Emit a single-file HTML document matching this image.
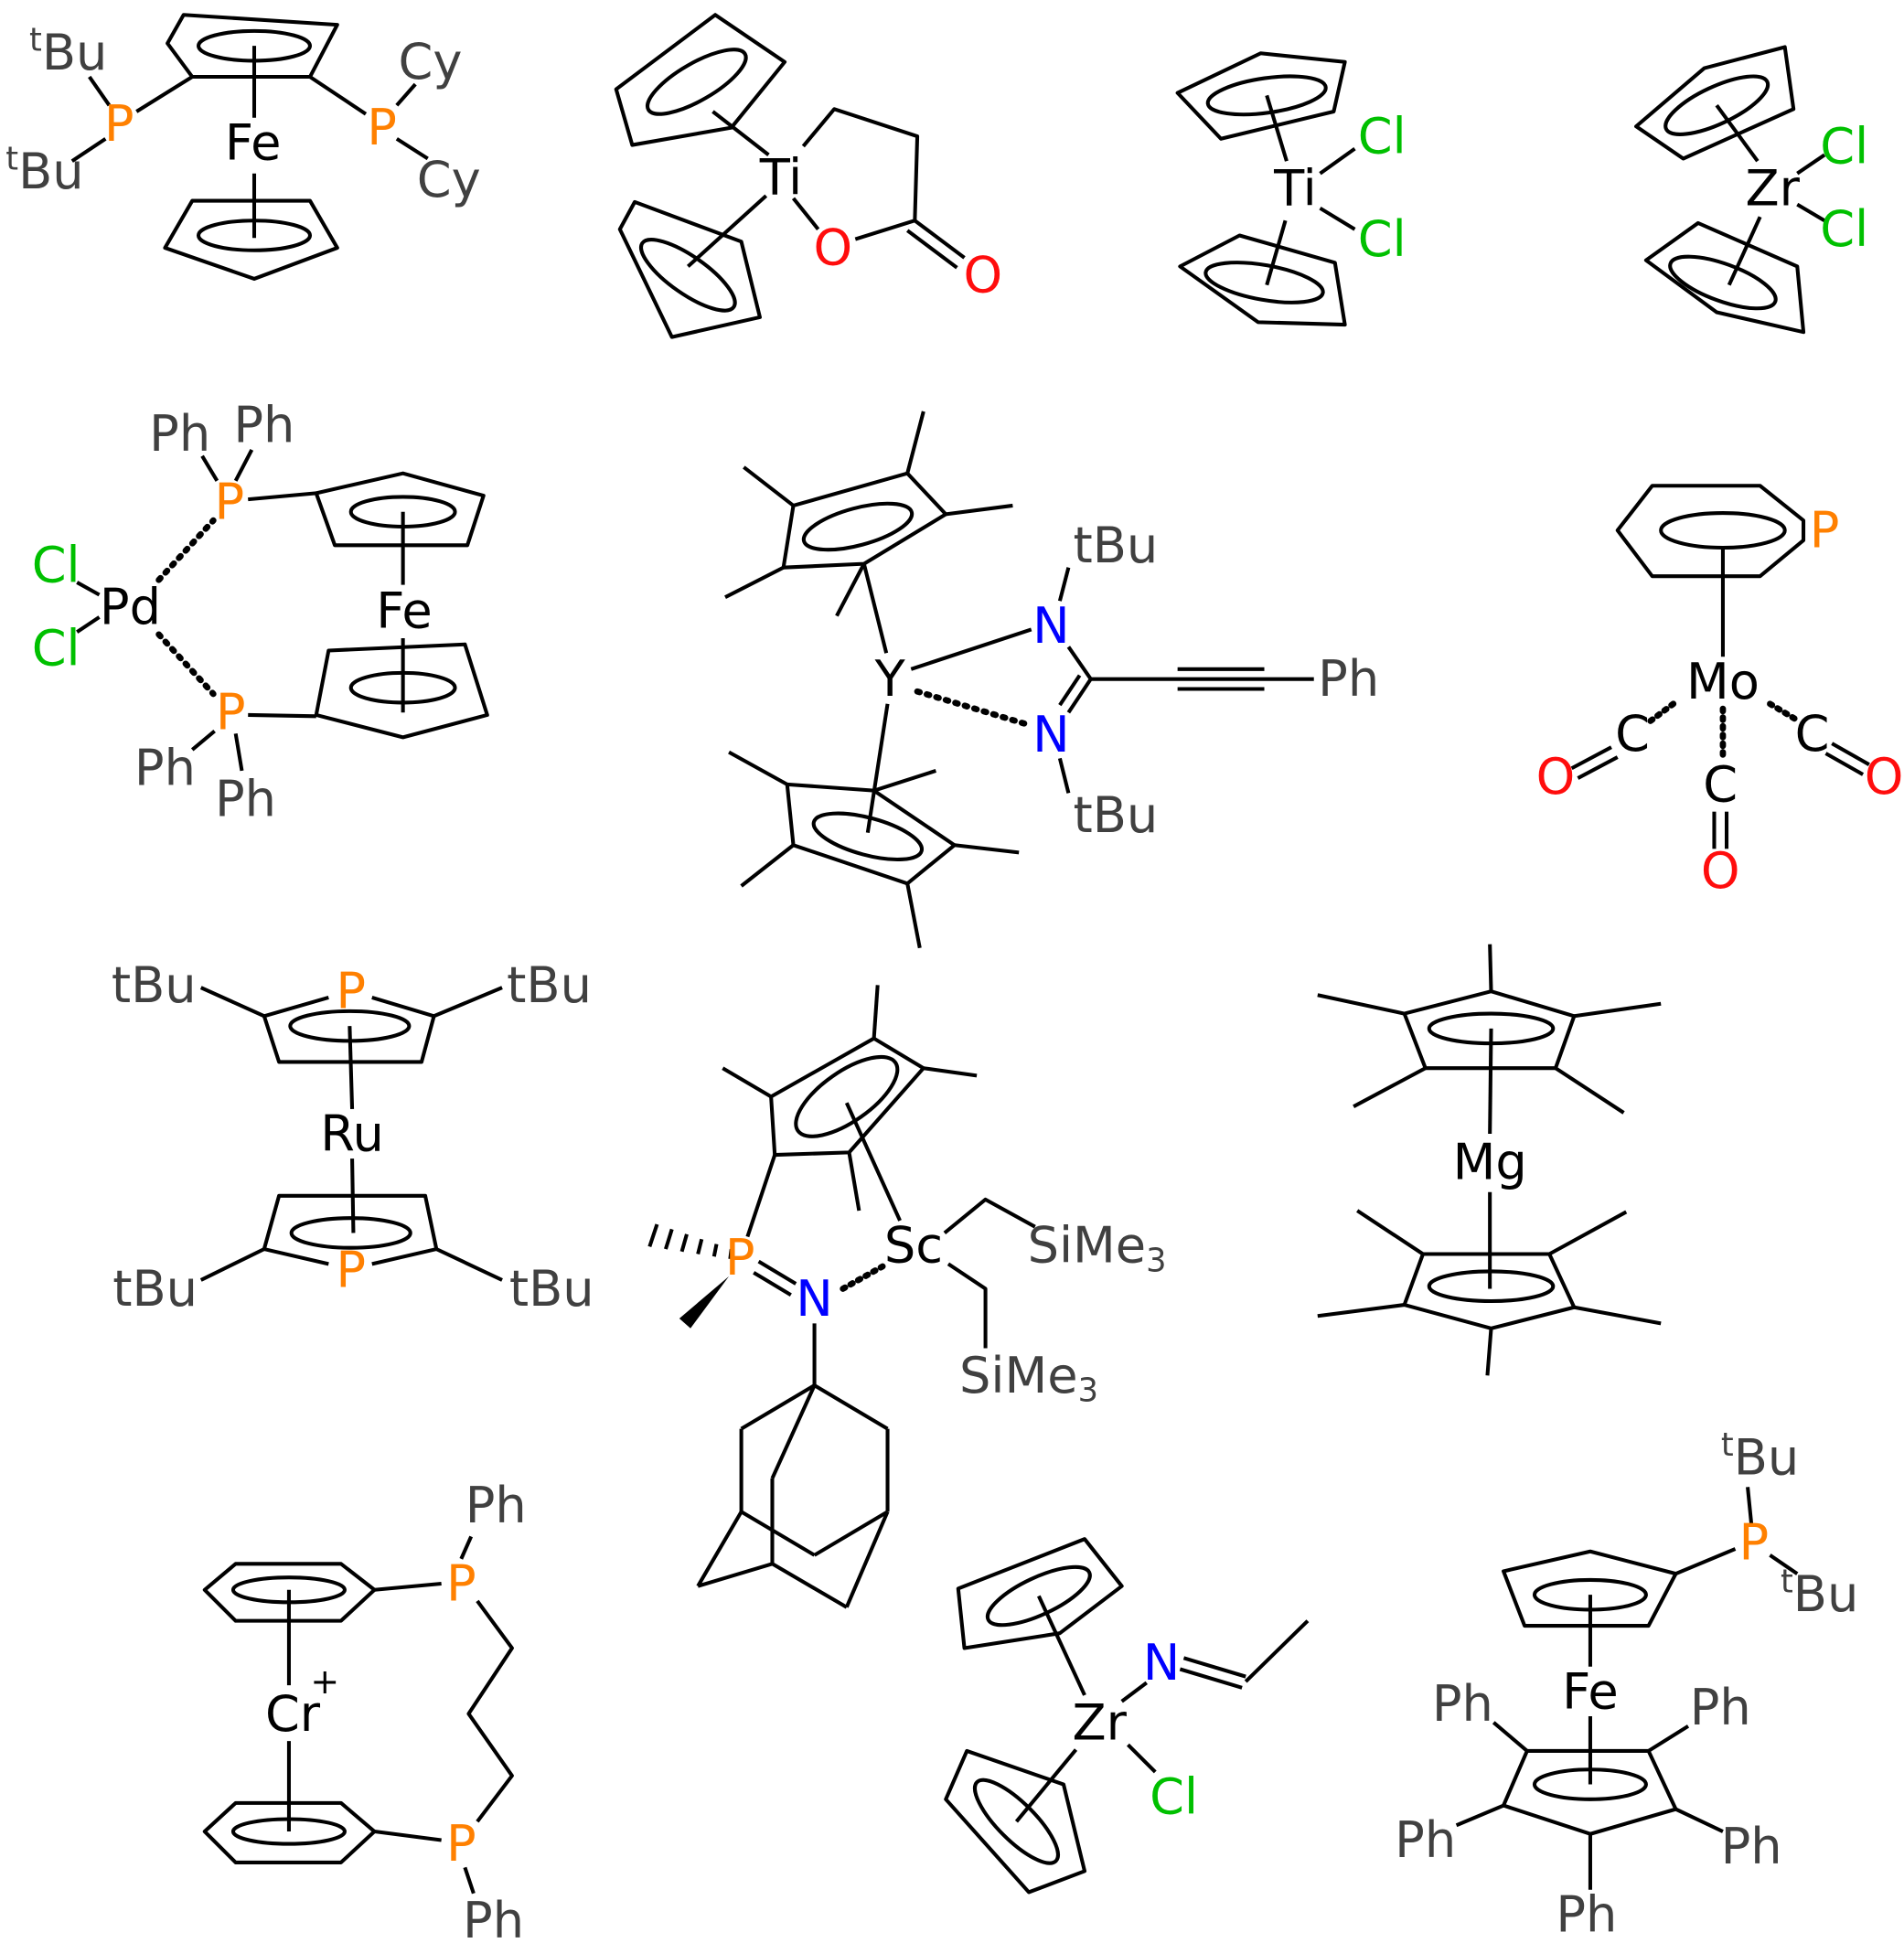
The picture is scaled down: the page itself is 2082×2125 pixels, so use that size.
<!DOCTYPE html>
<html><head><meta charset="utf-8"><style>
html,body{margin:0;padding:0;background:#fff;}
svg{display:block;}
text{font-family:"DejaVu Sans","Liberation Sans",sans-serif;font-size:40px;text-anchor:middle;dominant-baseline:central;}
.g{fill:#404040}.o{fill:#ff8000}.r{fill:#ff0d0d}.b{fill:#0000ff}.c{fill:#00c000}.k{fill:#000}
.sup{font-size:26px}
</style></head><body>
<svg width="2082" height="2125" viewBox="0 0 1536 1568" xmlns="http://www.w3.org/2000/svg">
<g fill="none" stroke="#000" stroke-width="3" stroke-linejoin="round">
<!-- M1 -->
<polygon points="148,12 272,20 250,62 155,62 135,35"/>
<ellipse cx="205" cy="37" rx="45" ry="12"/>
<line x1="205" y1="37" x2="205" y2="95"/><line x1="205" y1="140" x2="205" y2="192"/>
<polygon points="133,200 155,162 250,162 272,200 205,225"/>
<ellipse cx="205" cy="190" rx="45" ry="12"/>
<line x1="155" y1="62" x2="110" y2="90"/><line x1="88" y1="85" x2="72" y2="62"/><line x1="85" y1="112" x2="58" y2="130"/>
<line x1="250" y1="62" x2="295" y2="92"/><line x1="320" y1="85" x2="335" y2="68"/><line x1="320" y1="112" x2="345" y2="128"/>
<!-- M2 -->
<polygon points="497,72 577,12 633,50 590,103 510,117"/>
<ellipse cx="562" cy="66" rx="45" ry="15" transform="rotate(-30 562 66)"/>
<line x1="575" y1="90" x2="620" y2="125"/>
<polygon points="500,185 512,163 598,195 613,256 542,272"/>
<ellipse cx="555" cy="222" rx="45" ry="15" transform="rotate(35 555 222)"/>
<line x1="555" y1="215" x2="618" y2="158"/>
<polyline points="648,118 673,88 740,110 738,178 690,193"/>
<line x1="640" y1="160" x2="660" y2="185"/>
<line x1="738" y1="178" x2="778" y2="208"/><line x1="732" y1="186" x2="772" y2="216"/>
<!-- M3 -->
<polygon points="950,75 1017,43 1085,50 1076,90 985,112"/>
<ellipse cx="1022" cy="77" rx="48" ry="14" transform="rotate(-8 1022 77)"/>
<line x1="1022" y1="77" x2="1038" y2="130"/><line x1="1037" y1="178" x2="1022" y2="230"/>
<polygon points="952,215 1000,190 1077,212 1085,262 1015,260"/>
<ellipse cx="1020" cy="228" rx="48" ry="14" transform="rotate(10 1020 228)"/>
<line x1="1065" y1="140" x2="1093" y2="120"/><line x1="1065" y1="168" x2="1093" y2="185"/>
<!-- M4 -->
<polygon points="1320,102 1375,55 1440,38 1447,88 1358,128"/>
<ellipse cx="1385" cy="85" rx="45" ry="15" transform="rotate(-25 1385 85)"/>
<line x1="1385" y1="85" x2="1418" y2="130"/><line x1="1420" y1="175" x2="1395" y2="230"/>
<polygon points="1328,210 1370,180 1450,215 1455,268 1385,252"/>
<ellipse cx="1390" cy="228" rx="45" ry="15" transform="rotate(20 1390 228)"/>
<line x1="1450" y1="140" x2="1472" y2="125"/><line x1="1450" y1="165" x2="1472" y2="178"/>
<!-- M5 -->
<line x1="175" y1="388" x2="163" y2="368"/><line x1="190" y1="388" x2="203" y2="363"/>
<line x1="200" y1="403" x2="255" y2="398"/>
<polygon points="255,398 325,382 390,400 377,440 270,440"/>
<ellipse cx="325" cy="413" rx="42" ry="12"/>
<line x1="325" y1="413" x2="325" y2="472"/><line x1="325" y1="515" x2="325" y2="575"/>
<polygon points="255,577 265,525 375,520 393,577 325,595"/>
<ellipse cx="325" cy="555" rx="42" ry="12"/>
<line x1="200" y1="577" x2="255" y2="578"/>
<line x1="173" y1="590" x2="155" y2="605"/><line x1="190" y1="592" x2="195" y2="622"/>
<line x1="62" y1="470" x2="80" y2="480"/><line x1="62" y1="510" x2="80" y2="498"/>
<line x1="128" y1="468" x2="172" y2="420" stroke-width="5" stroke-dasharray="2,6" stroke-linecap="round"/>
<line x1="128" y1="512" x2="172" y2="560" stroke-width="5" stroke-dasharray="2,6" stroke-linecap="round"/>
<!-- M6 -->
<polygon points="640,408 732,382 763,415 697,455 632,458"/>
<ellipse cx="692" cy="425" rx="45" ry="15" transform="rotate(-15 692 425)"/>
<line x1="640" y1="408" x2="600" y2="377"/><line x1="732" y1="382" x2="745" y2="332"/><line x1="763" y1="415" x2="817" y2="408"/><line x1="632" y1="458" x2="585" y2="482"/><line x1="697" y1="455" x2="675" y2="497"/>
<line x1="697" y1="455" x2="715" y2="527"/>
<polygon points="635,633 705,638 770,682 732,713 640,682"/>
<ellipse cx="700" cy="675" rx="45" ry="15" transform="rotate(15 700 675)"/>
<line x1="635" y1="633" x2="588" y2="607"/><line x1="705" y1="638" x2="755" y2="622"/><line x1="770" y1="682" x2="822" y2="688"/><line x1="732" y1="713" x2="742" y2="765"/><line x1="640" y1="682" x2="598" y2="715"/>
<line x1="716" y1="568" x2="700" y2="672"/>
<line x1="735" y1="540" x2="832" y2="508"/>
<line x1="740" y1="558" x2="830" y2="585" stroke-width="5" stroke-dasharray="2,6" stroke-linecap="round"/>
<line x1="855" y1="485" x2="862" y2="458"/><line x1="862" y1="522" x2="880" y2="548"/>
<line x1="880" y1="548" x2="862" y2="575"/><line x1="871" y1="545" x2="855" y2="569"/>
<line x1="855" y1="612" x2="862" y2="640"/>
<line x1="880" y1="548" x2="1060" y2="548"/><line x1="950" y1="540" x2="1020" y2="540"/><line x1="950" y1="556" x2="1020" y2="556"/>
<!-- M7 -->
<polygon points="1305,428 1333,392 1420,392 1455,420 1455,436 1420,465 1333,465"/>
<ellipse cx="1390" cy="428" rx="50" ry="14"/>
<line x1="1390" y1="442" x2="1390" y2="530"/>
<line x1="1350" y1="568" x2="1330" y2="583" stroke-width="5" stroke-dasharray="2,5" stroke-linecap="round"/>
<line x1="1300" y1="603" x2="1268" y2="620"/><line x1="1305" y1="611" x2="1273" y2="628"/>
<line x1="1390" y1="572" x2="1390" y2="612" stroke-width="5" stroke-dasharray="2,5" stroke-linecap="round"/>
<line x1="1383" y1="655" x2="1383" y2="685"/><line x1="1393" y1="655" x2="1393" y2="685"/>
<line x1="1428" y1="568" x2="1448" y2="580" stroke-width="5" stroke-dasharray="2,5" stroke-linecap="round"/>
<line x1="1478" y1="600" x2="1508" y2="617"/><line x1="1473" y1="608" x2="1503" y2="625"/>
<!-- M8 -->
<polyline points="265,805 213,820 225,857 340,857 350,820 300,805"/>
<ellipse cx="282" cy="828" rx="48" ry="12"/>
<line x1="162" y1="797" x2="213" y2="820"/><line x1="350" y1="820" x2="405" y2="797"/>
<line x1="282" y1="828" x2="284" y2="895"/><line x1="284" y1="935" x2="285" y2="995"/>
<polyline points="265,1020 213,1008 225,965 343,965 352,1008 300,1020"/>
<ellipse cx="283" cy="995" rx="48" ry="12"/>
<line x1="213" y1="1008" x2="162" y2="1033"/><line x1="352" y1="1008" x2="405" y2="1033"/>
<!-- M9 -->
<polygon points="622,885 705,838 745,862 685,930 625,932"/>
<ellipse cx="683" cy="885" rx="48" ry="20" transform="rotate(-35 683 885)"/>
<line x1="622" y1="885" x2="583" y2="862"/><line x1="705" y1="838" x2="708" y2="795"/><line x1="745" y1="862" x2="788" y2="868"/><line x1="685" y1="930" x2="693" y2="977"/>
<line x1="625" y1="932" x2="603" y2="998"/>
<line x1="683" y1="890" x2="726" y2="985"/>
<line x1="612" y1="1018" x2="642" y2="1036"/><line x1="608" y1="1027" x2="638" y2="1045"/>
<line x1="680" y1="1040" x2="712" y2="1022" stroke-width="5" stroke-dasharray="2,5" stroke-linecap="round"/>
<polyline points="762,995 795,968 835,990"/>
<polyline points="765,1020 795,1040 795,1088"/>
<line x1="657" y1="1068" x2="657" y2="1118"/>
<line x1="657" y1="1118" x2="598" y2="1153"/><line x1="657" y1="1118" x2="716" y2="1153"/><line x1="657" y1="1118" x2="623" y2="1193"/>
<line x1="623" y1="1193" x2="623" y2="1262"/><line x1="598" y1="1153" x2="598" y2="1220"/><line x1="716" y1="1153" x2="716" y2="1220"/>
<line x1="598" y1="1220" x2="657" y2="1255"/><line x1="657" y1="1255" x2="716" y2="1220"/>
<line x1="598" y1="1220" x2="563" y2="1280"/><line x1="563" y1="1280" x2="623" y2="1262"/><line x1="623" y1="1262" x2="683" y2="1297"/><line x1="683" y1="1297" x2="716" y2="1220"/>
<!-- M10 -->
<polygon points="1133,818 1203,800 1270,820 1255,862 1150,862"/>
<ellipse cx="1203" cy="830" rx="50" ry="12"/>
<line x1="1203" y1="800" x2="1202" y2="762"/><line x1="1133" y1="818" x2="1063" y2="803"/><line x1="1270" y1="820" x2="1340" y2="810"/><line x1="1255" y1="862" x2="1310" y2="898"/><line x1="1150" y1="862" x2="1092" y2="893"/>
<line x1="1203" y1="830" x2="1202" y2="915"/><line x1="1202" y1="962" x2="1202" y2="1040"/>
<polygon points="1148,1012 1250,1012 1270,1055 1203,1072 1133,1053"/>
<ellipse cx="1203" cy="1038" rx="50" ry="12"/>
<line x1="1148" y1="1012" x2="1095" y2="977"/><line x1="1250" y1="1012" x2="1312" y2="978"/><line x1="1270" y1="1055" x2="1340" y2="1068"/><line x1="1203" y1="1072" x2="1200" y2="1110"/><line x1="1133" y1="1053" x2="1063" y2="1062"/>
<!-- M11 -->
<polygon points="165,1283 190,1262 275,1262 302,1283 275,1308 190,1308"/>
<ellipse cx="233" cy="1283" rx="45" ry="10"/>
<line x1="302" y1="1283" x2="356" y2="1278"/>
<line x1="372" y1="1258" x2="380" y2="1240"/>
<polyline points="385,1292 413,1330 378,1383 413,1433 385,1470"/>
<line x1="375" y1="1507" x2="382" y2="1528"/>
<polygon points="165,1478 190,1455 275,1455 302,1478 275,1503 190,1503"/>
<ellipse cx="233" cy="1478" rx="45" ry="10"/>
<line x1="302" y1="1478" x2="356" y2="1485"/>
<line x1="233" y1="1283" x2="233" y2="1360"/><line x1="233" y1="1405" x2="233" y2="1478"/>
<!-- M12 -->
<polygon points="773,1282 778,1330 855,1318 905,1280 875,1242"/>
<ellipse cx="838" cy="1288" rx="45" ry="15" transform="rotate(-25 838 1288)"/>
<line x1="838" y1="1288" x2="875" y2="1368"/>
<polygon points="763,1452 780,1413 858,1440 875,1510 830,1527"/>
<ellipse cx="820" cy="1470" rx="45" ry="15" transform="rotate(45 820 1470)"/>
<line x1="868" y1="1412" x2="820" y2="1470"/>
<line x1="905" y1="1373" x2="925" y2="1358"/>
<line x1="955" y1="1338" x2="1005" y2="1353"/><line x1="952" y1="1347" x2="1002" y2="1362"/>
<line x1="1005" y1="1357" x2="1055" y2="1308"/>
<line x1="910" y1="1408" x2="932" y2="1430"/>
<!-- M13 -->
<polygon points="1213,1268 1283,1252 1352,1270 1330,1312 1230,1312"/>
<ellipse cx="1283" cy="1287" rx="45" ry="12"/>
<line x1="1352" y1="1270" x2="1400" y2="1250"/>
<line x1="1413" y1="1230" x2="1410" y2="1200"/><line x1="1428" y1="1255" x2="1450" y2="1270"/>
<line x1="1283" y1="1287" x2="1283" y2="1345"/><line x1="1283" y1="1385" x2="1283" y2="1440"/>
<polygon points="1232,1413 1330,1413 1352,1460 1283,1480 1213,1457"/>
<ellipse cx="1283" cy="1440" rx="45" ry="12"/>
<line x1="1205" y1="1390" x2="1232" y2="1413"/><line x1="1330" y1="1413" x2="1362" y2="1393"/><line x1="1213" y1="1457" x2="1175" y2="1473"/><line x1="1352" y1="1460" x2="1390" y2="1478"/><line x1="1283" y1="1480" x2="1283" y2="1525"/>
</g>
<!-- dashed/solid wedges -->
<g stroke="#000" stroke-width="3">
<line x1="590" y1="1008" x2="589" y2="1016"/><line x1="578" y1="1004" x2="576" y2="1014"/><line x1="566" y1="1000" x2="563" y2="1012"/><line x1="554" y1="996" x2="550" y2="1010"/><line x1="542" y1="992" x2="537" y2="1008"/><line x1="530" y1="988" x2="524" y2="1006"/>
</g>
<polygon points="588,1030 548,1064 557,1072" fill="#000"/>
<!-- labels -->
<text x="204" y="115" class="k">Fe</text>
<text x="55" y="42" class="g"><tspan class="sup" dy="-10">t</tspan><tspan dy="10">Bu</tspan></text>
<text x="36" y="138" class="g"><tspan class="sup" dy="-10">t</tspan><tspan dy="10">Bu</tspan></text>
<text x="96" y="100" class="o">P</text><text x="308" y="103" class="o">P</text>
<text x="347" y="50" class="g">Cy</text><text x="362" y="145" class="g">Cy</text>
<text x="630" y="143" class="k">Ti</text><text x="672" y="200" class="r">O</text><text x="793" y="222" class="r">O</text>
<text x="1045" y="152" class="k">Ti</text><text x="1115" y="110" class="c">Cl</text><text x="1115" y="193" class="c">Cl</text>
<text x="1430" y="152" class="k">Zr</text><text x="1488" y="118" class="c">Cl</text><text x="1488" y="185" class="c">Cl</text>
<text x="145" y="350" class="g">Ph</text><text x="213" y="343" class="g">Ph</text>
<text x="185" y="405" class="o">P</text><text x="186" y="575" class="o">P</text>
<text x="326" y="493" class="k">Fe</text><text x="105" y="490" class="k">Pd</text>
<text x="45" y="456" class="c">Cl</text><text x="45" y="523" class="c">Cl</text>
<text x="133" y="620" class="g">Ph</text><text x="198" y="645" class="g">Ph</text>
<text x="718" y="548" class="k">Y</text><text x="848" y="505" class="b">N</text><text x="848" y="593" class="b">N</text>
<text x="900" y="440" class="g">tBu</text><text x="900" y="658" class="g">tBu</text><text x="1088" y="548" class="g">Ph</text>
<text x="1472" y="428" class="o">P</text><text x="1390" y="550" class="k">Mo</text>
<text x="1317" y="592" class="k">C</text><text x="1255" y="627" class="r">O</text>
<text x="1388" y="633" class="k">C</text><text x="1388" y="703" class="r">O</text>
<text x="1462" y="592" class="k">C</text><text x="1520" y="627" class="r">O</text>
<text x="283" y="800" class="o">P</text><text x="124" y="795" class="g">tBu</text><text x="443" y="795" class="g">tBu</text>
<text x="284" y="915" class="k">Ru</text>
<text x="283" y="1025" class="o">P</text><text x="125" y="1040" class="g">tBu</text><text x="445" y="1040" class="g">tBu</text>
<text x="737" y="1005" class="k">Sc</text><text x="597" y="1015" class="o">P</text><text x="657" y="1048" class="b">N</text>
<text x="885" y="1005" class="g">SiMe<tspan class="sup" dy="12">3</tspan></text>
<text x="830" y="1110" class="g">SiMe<tspan class="sup" dy="12">3</tspan></text>
<text x="1202" y="938" class="k">Mg</text>
<text x="372" y="1278" class="o">P</text><text x="400" y="1215" class="g">Ph</text>
<text x="372" y="1488" class="o">P</text><text x="398" y="1550" class="g">Ph</text>
<text x="236" y="1383" class="k">Cr</text><text x="262" y="1357" class="k" style="font-size:28px">+</text>
<text x="887" y="1390" class="k">Zr</text><text x="937" y="1342" class="b">N</text><text x="947" y="1450" class="c">Cl</text>
<text x="1420" y="1176" class="g"><tspan class="sup" dy="-10">t</tspan><tspan dy="10">Bu</tspan></text>
<text x="1415" y="1245" class="o">P</text>
<text x="1468" y="1286" class="g"><tspan class="sup" dy="-10">t</tspan><tspan dy="10">Bu</tspan></text>
<text x="1283" y="1365" class="k">Fe</text>
<text x="1180" y="1375" class="g">Ph</text><text x="1388" y="1378" class="g">Ph</text>
<text x="1150" y="1485" class="g">Ph</text><text x="1413" y="1490" class="g">Ph</text><text x="1280" y="1545" class="g">Ph</text>
</svg>
</body></html>
